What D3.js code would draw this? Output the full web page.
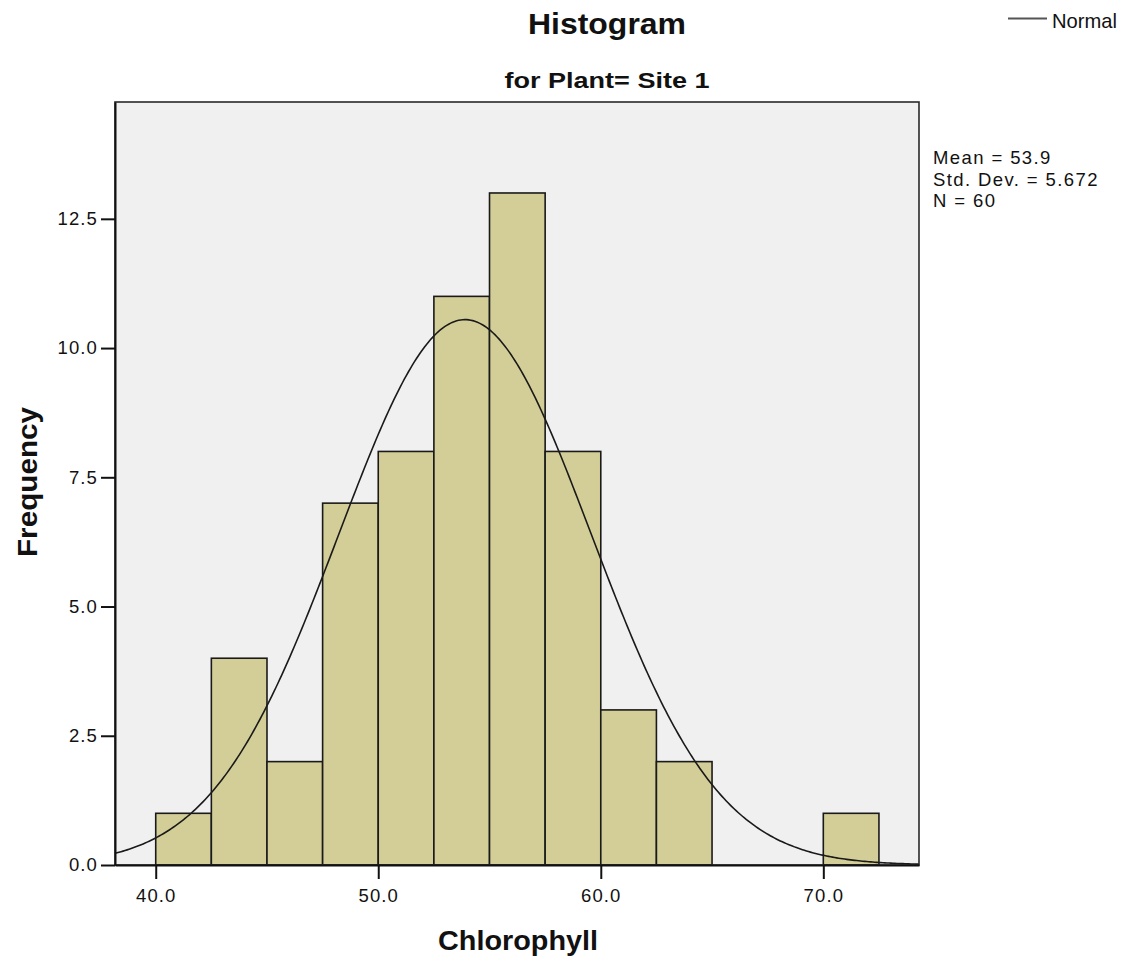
<!DOCTYPE html>
<html>
<head>
<meta charset="utf-8">
<script src="https://cdn.jsdelivr.net/npm/d3@7"></script>
<style>
  html, body { margin: 0; padding: 0; background: #fff; }
  svg { display: block; font-family: "Liberation Sans", Arial, sans-serif; }
</style>
</head>
<body>
<svg id="chart" width="1126" height="961"></svg>
<script>
// Histogram of chlorophyll readings, Site 1
const binStarts = [40, 42.5, 45, 47.5, 50, 52.5, 55, 57.5, 60, 62.5, 65, 67.5, 70];
const binCounts = [1, 4, 2, 7, 8, 11, 13, 8, 3, 2, 0, 0, 1];
const binWidth = 2.5;
const xTicks = [40, 50, 60, 70];
const yTicks = [0, 2.5, 5, 7.5, 10, 12.5];
const statMean = 53.9;
const statSd = 5.672;
const statN = 60;
const statLines = ["Mean = 53.9", "Std. Dev. = 5.672", "N = 60"];

const svg = d3.select("#chart");
const plot = { left: 115, right: 919, top: 102, bottom: 865 };

const x = d3.scaleLinear().domain([38.17, 74.3]).range([plot.left, plot.right]);
const y = d3.scaleLinear().domain([0, 14.76]).range([plot.bottom, plot.top]);

// plot background
svg.append("rect")
  .attr("x", plot.left).attr("y", plot.top)
  .attr("width", plot.right - plot.left).attr("height", plot.bottom - plot.top)
  .attr("fill", "#f0f0f0");

svg.append("clipPath").attr("id", "plotClip")
  .append("rect")
  .attr("x", plot.left).attr("y", plot.top)
  .attr("width", plot.right - plot.left).attr("height", plot.bottom - plot.top);

// bars
const bins = binStarts.map((s, i) => ({ x0: s, x1: s + binWidth, n: binCounts[i] }))
  .filter(d => d.n > 0);
svg.append("g").selectAll("rect").data(bins).join("rect")
  .attr("x", d => x(d.x0))
  .attr("y", d => y(d.n))
  .attr("width", d => x(d.x1) - x(d.x0))
  .attr("height", d => y(0) - y(d.n))
  .attr("fill", "#d3ce97")
  .attr("stroke", "#1a1a1a")
  .attr("stroke-width", 1.6);

// normal curve scaled to counts
const scaleK = statN * binWidth / (statSd * Math.sqrt(2 * Math.PI));
const curvePts = d3.range(0, 401).map(i => {
  const v = 38.17 + (74.3 - 38.17) * i / 400;
  const z = (v - statMean) / statSd;
  return [v, scaleK * Math.exp(-0.5 * z * z)];
});
svg.append("path")
  .datum(curvePts)
  .attr("clip-path", "url(#plotClip)")
  .attr("fill", "none")
  .attr("stroke", "#1a1a1a")
  .attr("stroke-width", 1.6)
  .attr("d", d3.line().x(d => x(d[0])).y(d => y(d[1])));

// frame
svg.append("rect")
  .attr("x", plot.left).attr("y", plot.top)
  .attr("width", plot.right - plot.left).attr("height", plot.bottom - plot.top)
  .attr("fill", "none")
  .attr("stroke", "#2a2a2a")
  .attr("stroke-width", 1.6);

// axes
const fmt = d3.format(".1f");
const xAxis = svg.append("g")
  .attr("transform", `translate(0,${plot.bottom})`)
  .call(d3.axisBottom(x).tickValues(xTicks).tickFormat(fmt)
    .tickSizeInner(14).tickSizeOuter(0).tickPadding(5));
const yAxis = svg.append("g")
  .attr("transform", `translate(${plot.left},0)`)
  .call(d3.axisLeft(y).tickValues(yTicks).tickFormat(fmt)
    .tickSizeInner(14).tickSizeOuter(0).tickPadding(3));

[xAxis, yAxis].forEach(g => {
  g.select(".domain").attr("stroke", "#111").attr("stroke-width", 2);
  g.selectAll(".tick line").attr("stroke", "#111").attr("stroke-width", 2);
  g.selectAll(".tick text")
    .attr("fill", "#111")
    .style("font-family", "'Liberation Sans', Arial, sans-serif")
    .style("font-size", "18.5px")
    .style("letter-spacing", "1.1px");
});
xAxis.selectAll(".tick text").attr("dy", "0.95em");

// titles
svg.append("text")
  .attr("x", 607).attr("y", 34)
  .attr("text-anchor", "middle")
  .attr("font-size", 29).attr("font-weight", "bold")
  .attr("textLength", 158).attr("lengthAdjust", "spacingAndGlyphs")
  .attr("fill", "#111")
  .text("Histogram");

svg.append("text")
  .attr("x", 607).attr("y", 88)
  .attr("text-anchor", "middle")
  .attr("font-size", 22).attr("font-weight", "bold")
  .attr("textLength", 205).attr("lengthAdjust", "spacingAndGlyphs")
  .attr("fill", "#111")
  .text("for Plant= Site 1");

svg.append("text")
  .attr("x", 518).attr("y", 950)
  .attr("text-anchor", "middle")
  .attr("font-size", 28).attr("font-weight", "bold")
  .attr("textLength", 160).attr("lengthAdjust", "spacingAndGlyphs")
  .attr("fill", "#111")
  .text("Chlorophyll");

svg.append("text")
  .attr("transform", "translate(37,482) rotate(-90)")
  .attr("text-anchor", "middle")
  .attr("font-size", 28).attr("font-weight", "bold")
  .attr("textLength", 150).attr("lengthAdjust", "spacingAndGlyphs")
  .attr("fill", "#111")
  .text("Frequency");

// summary statistics
svg.append("g").selectAll("text").data(statLines).join("text")
  .attr("x", 933)
  .attr("y", (d, i) => 164 + i * 21.5)
  .attr("font-size", 18.5)
  .style("letter-spacing", "1.4px")
  .attr("fill", "#111")
  .text(d => d);

// legend
svg.append("line")
  .attr("x1", 1008).attr("x2", 1047).attr("y1", 18.5).attr("y2", 18.5)
  .attr("stroke", "#555").attr("stroke-width", 2.2);
svg.append("text")
  .attr("x", 1052).attr("y", 28)
  .attr("font-size", 21)
  .attr("textLength", 65).attr("lengthAdjust", "spacingAndGlyphs")
  .attr("fill", "#111")
  .text("Normal");
</script>
</body>
</html>
